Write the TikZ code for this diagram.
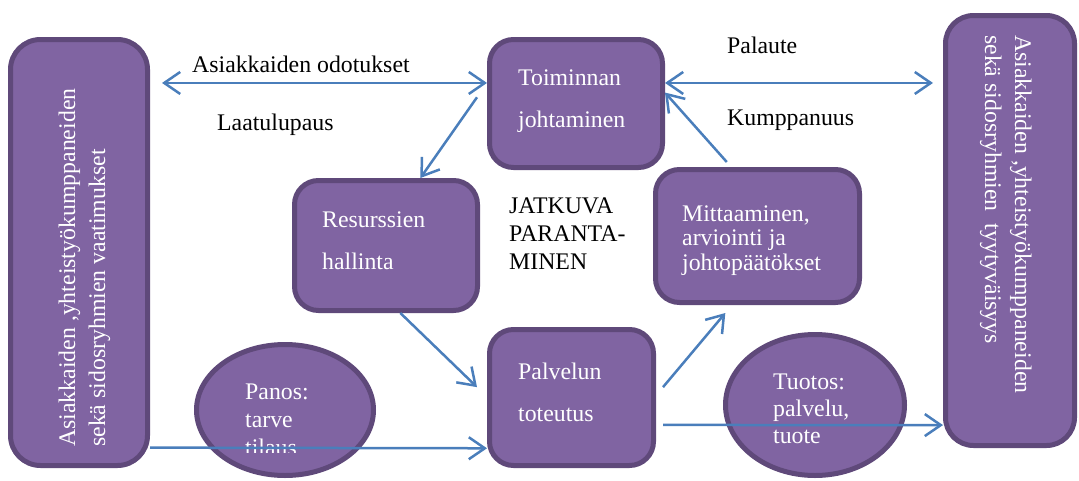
\documentclass[tikz,border=0pt]{standalone}
\usepackage{fontspec}
\setmainfont{Liberation Serif}
\usetikzlibrary{arrows.meta,shapes.geometric}
\definecolor{boxfill}{HTML}{8064A2}
\definecolor{boxline}{HTML}{5F497A}
\definecolor{flowblue}{HTML}{4A7EBB}
% left-aligned block of lines whose baseline is the first line
\newcommand{\rows}[1]{\begin{tabular}[t]{@{}l@{}}#1\end{tabular}}

\begin{document}
\begin{tikzpicture}[x=1pt,y=-1pt,
  box/.style={draw=boxline, fill=boxfill, line width=5pt, rounded corners=#1, inner sep=0pt},
  box/.default=24pt,
  oval/.style={ellipse, draw=boxline, fill=boxfill, line width=5pt, inner sep=0pt},
  inside/.style={text=white, inner sep=0pt, anchor=base west, font=\fontsize{23.8}{#1}\selectfont},
  inside/.default=42,
  note/.style={text=black, inner sep=0pt, anchor=base west, font=\fontsize{23.8}{#1}\selectfont},
  note/.default=28,
  >={Straight Barb[length=16pt,width=22pt]},
  flow/.style={draw=flowblue, line width=2.5pt}
]
\useasboundingbox (0,0) rectangle (1079,480);

% shapes
\node[box=30pt, minimum width=137pt, minimum height=426pt] (req) at (79,252.5) {};
\node[box=28pt, minimum width=129pt, minimum height=430pt] (sat) at (1010,230.5) {};
\node[box, minimum width=173pt, minimum height=128pt] (lead) at (576,103.5) {};
\node[box, minimum width=183pt, minimum height=130pt] (res) at (386,245.5) {};
\node[box, minimum width=204pt, minimum height=133pt] (meas) at (757.5,236) {};
\node[box, minimum width=164pt, minimum height=136pt] (proc) at (571.5,397.5) {};
\node[oval, minimum width=177pt, minimum height=131pt] (inp) at (285,410) {};
\node[oval, minimum width=179pt, minimum height=141pt] (outp) at (815,405) {};

% texts inside the shapes
\node[inside=30, rotate=90] (reqtext) at (75,447)
  {\rows{Asiakkaiden ,yhteistyökumppaneiden\\sekä sidosryhmien vaatimukset}};
\node[inside=30, rotate=-90] (sattext) at (1015,35)
  {\rows{Asiakkaiden ,yhteistyökumppaneiden\\sekä sidosryhmien\ \ tyytyväisyys}};
\node[inside] (leadtext) at (518,85) {\rows{Toiminnan\\johtaminen}};
\node[inside] (restext) at (322,227) {\rows{Resurssien\\hallinta}};
\node[inside] (proctext) at (518,379) {\rows{Palvelun\\toteutus}};
\node[inside=24.5] (meastext) at (682,221) {\rows{Mittaaminen,\\arviointi ja\\johtopäätökset}};
\begin{scope}
  \clip (190,330) rectangle (380,452);
  \node[inside=28] (inptext) at (245,399) {\rows{Panos:\\tarve\\tilaus}};
\end{scope}
\node[inside=27] (outptext) at (773,389) {\rows{Tuotos:\\palvelu,\\tuote}};

% free labels
\node[note] (expect) at (192,72) {Asiakkaiden odotukset};
\node[note] (promise) at (217,130) {Laatulupaus};
\node[note] (feedback) at (727,53) {Palaute};
\node[note] (partner) at (727,125) {Kumppanuus};
\node[note=28] (improve) at (509,213) {\rows{JATKUVA\\PARANTA-\\MINEN}};

% connectors
\coordinate (expL) at ([xshift=12pt]req.east);
\coordinate (fbR) at ([xshift=-10pt]sat.west);
\draw[flow,<->] (expL |- lead.167) -- (lead.167);
\draw[flow,<->] (lead.13) -- (fbR |- lead.13);
\draw[flow,->] ([xshift=-10pt]lead.176) -- (res.63);
\draw[flow,->] ([yshift=5pt]meas.114) -- (lead.7);
\draw[flow,->] (res.282) -- ([xshift=-10pt]proc.173);
\draw[flow,->] (req.-70) -- (proc.211);
\draw[flow,->] ([xshift=7pt]proc.7) -- ([yshift=-8pt]meas.245);
\draw[flow,->] ([xshift=7pt]proc.-18) -- (sat.251);
\end{tikzpicture}
\end{document}
